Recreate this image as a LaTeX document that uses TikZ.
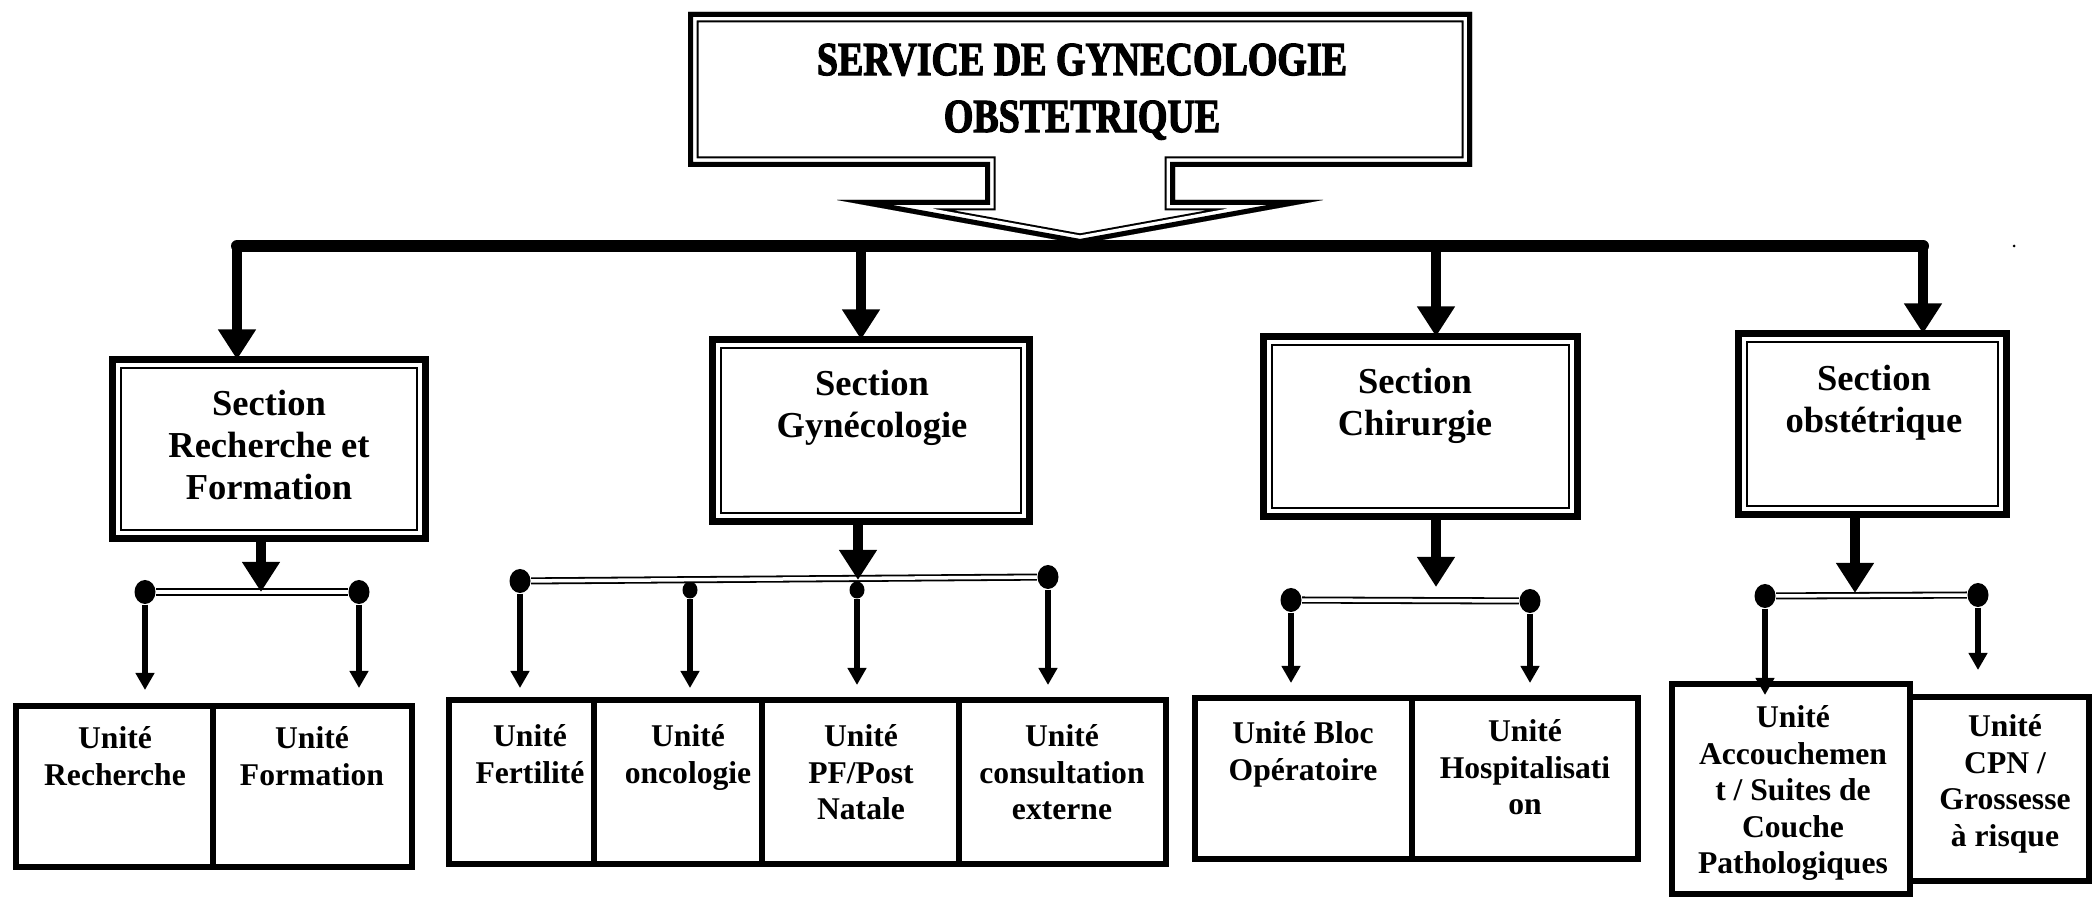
\documentclass[tikz,border=0pt]{standalone}
\usepackage{fontspec}
\setmainfont{Liberation Serif}
\newfontfamily\titlefont[FakeStretch=0.8,FakeBold=2.5]{Liberation Serif}
\usetikzlibrary{arrows.meta,shapes.geometric}
\begin{document}
\begin{tikzpicture}[x=0.1mm,y=-0.1mm,
  bigline/.style={line width=1.2mm, line cap=round, line join=round},
  bigarrow/.style={line width=1.0mm, -{Triangle[length=3.0mm,width=3.6mm]}},
  smallarrow/.style={line width=0.55mm, -{Triangle[length=1.7mm,width=1.8mm]}},
  bar/.style={double, line width=0.18mm, double distance=0.35mm},
  bigdot/.style={ellipse, fill, inner sep=0, minimum width=2.1mm, minimum height=2.4mm},
  smalldot/.style={ellipse, fill, inner sep=0, minimum width=1.5mm, minimum height=1.7mm},
  secbox/.style={draw, line width=0.7mm, inner sep=0, outer sep=0},
  secinner/.style={line width=0.2mm},
  unitbox/.style={draw, line width=0.6mm, inner sep=0, outer sep=0, minimum height=#1},
  sectext/.style={anchor=north, align=center, inner sep=0, font=\fontsize{10.4}{12}\selectfont\bfseries},
  unittext/.style={anchor=north, align=center, inner sep=0, font=\fontsize{9}{10.4}\selectfont\bfseries},
  titletext/.style={anchor=north, align=center, inner sep=0, font=\titlefont\fontsize{13.5}{16.2}\selectfont\bfseries}
]
\useasboundingbox (0,0) rectangle (2096,898);

% ---- title arrow-callout ----
\begin{scope}
\clip (688,12) -- (1472,12) -- (1472,167) -- (1175,167) -- (1175,200) -- (1323,200) -- (1080,244) -- (837,200) -- (985,200) -- (985,167) -- (688,167) -- cycle;
\foreach \w/\c in {2.1mm/black,1.7mm/white,1.0mm/black}
  \draw[line width=\w, draw=\c, miter limit=25] (688,12) -- (1472,12) -- (1472,167) -- (1175,167) -- (1175,200) -- (1323,200) -- (1080,244) -- (837,200) -- (985,200) -- (985,167) -- (688,167) -- cycle;
\end{scope}
\node[titletext] (title) at (1082,43) {SERVICE DE GYNECOLOGIE\\OBSTETRIQUE};

% ---- main horizontal line ----
\coordinate (h1) at (237,246);
\coordinate (h2) at (861,246);
\coordinate (h3) at (1436,246);
\coordinate (h4) at (1923,246);
\draw[bigline] (h1) -- (h4);
\fill (2014,246) circle (1.5);

% ---- sections ----
\node[secbox, minimum width=31.3mm, minimum height=17.9mm] (s1) at (269,449) {};
\node[secbox, minimum width=31.7mm, minimum height=18.2mm] (s2) at (871,430.5) {};
\node[secbox, minimum width=31.4mm, minimum height=18.0mm] (s3) at (1420.5,426.5) {};
\node[secbox, minimum width=26.8mm, minimum height=18.1mm] (s4) at (1872.5,424) {};
\foreach \s in {s1,s2,s3,s4}
  \draw[secinner] ([shift={(0.85mm,-0.85mm)}]\s.north west) rectangle ([shift={(-0.85mm,0.85mm)}]\s.south east);
\node[sectext] (s1t) at (269,389) {Section\\Recherche et\\Formation};
\node[sectext] (s2t) at (872,369) {Section\\Gynécologie};
\node[sectext] (s3t) at (1415,367) {Section\\Chirurgie};
\node[sectext] (s4t) at (1874,364) {Section\\obstétrique};

\draw[bigarrow] (h1) -- (h1 |- s1.north);
\draw[bigarrow] (h2) -- (h2 |- s2.north);
\draw[bigarrow] (h3) -- (h3 |- s3.north);
\draw[bigarrow] (h4) -- (h4 |- s4.north);

% ---- section -> bars ----
\coordinate (a1) at (261,592);
\coordinate (a2) at (858,580);
\coordinate (a3) at (1436,587);
\coordinate (a4) at (1855,593);

% dots
\node[bigdot] (g1a) at (145,592) {};
\node[bigdot] (g1b) at (359,592) {};
\node[bigdot] (g2a) at (520,581) {};
\node[smalldot] (g2b) at (690,590) {};
\node[smalldot] (g2c) at (857,590) {};
\node[bigdot] (g2d) at (1048,577) {};
\node[bigdot] (g3a) at (1291,600) {};
\node[bigdot] (g3b) at (1530,601) {};
\node[bigdot] (g4a) at (1765,596) {};
\node[bigdot] (g4b) at (1978,595) {};

\draw[bar] (g1a) -- (g1b);
\draw[bar] (g2a) -- (g2d);
\draw[bar] (g3a) -- (g3b);
\draw[bar] (g4a) -- (g4b);

\draw[bigarrow] (a1 |- s1.south) -- (a1);
\draw[bigarrow] (a2 |- s2.south) -- (a2);
\draw[bigarrow] (a3 |- s3.south) -- (a3);
\draw[bigarrow] (a4 |- s4.south) -- (a4);

% ---- units ----
\node[unitbox=16.1mm, minimum width=19.7mm] (u1) at (114.5,786.5) {};
\node[unitbox=16.1mm, minimum width=19.9mm] (u2) at (312.5,786.5) {};
\node[unitbox=16.4mm, minimum width=14.5mm] (u3) at (521.5,782) {};
\node[unitbox=16.4mm, minimum width=16.8mm] (u4) at (678,782) {};
\node[unitbox=16.4mm, minimum width=19.7mm] (u5) at (860.5,782) {};
\node[unitbox=16.4mm, minimum width=20.7mm] (u6) at (1062.5,782) {};
\node[unitbox=16.1mm, minimum width=21.7mm] (u7) at (1303.5,778.5) {};
\node[unitbox=16.1mm, minimum width=22.6mm] (u8) at (1525,778.5) {};
\node[unitbox=21.0mm, minimum width=23.8mm] (u9) at (1791,789) {};
\node[unitbox=18.4mm, minimum width=17.9mm] (u10) at (1999.5,789) {};

\node[unittext] (t1) at (115,726) {Unité\\Recherche};
\node[unittext] (t2) at (312,726) {Unité\\Formation};
\node[unittext] (t3) at (530,724) {Unité\\Fertilité};
\node[unittext] (t4) at (688,724) {Unité\\oncologie};
\node[unittext] (t5) at (861,724) {Unité\\PF/Post\\Natale};
\node[unittext] (t6) at (1062,724) {Unité\\consultation\\externe};
\node[unittext] (t7) at (1303,721) {Unité Bloc\\Opératoire};
\node[unittext] (t8) at (1525,719) {Unité\\Hospitalisati\\on};
\node[unittext] (t9) at (1793,705) {Unité\\Accouchemen\\t / Suites de\\Couche\\Pathologiques};
\node[unittext] (t10) at (2005,714) {Unité\\CPN /\\Grossesse\\à risque};

% ---- bars -> units ----
\draw[smallarrow, shorten >=1.6mm] (g1a) -- (g1a |- u1.north);
\draw[smallarrow, shorten >=1.8mm] (g1b) -- (g1b |- u2.north);
\draw[smallarrow, shorten >=1.2mm] (g2a) -- (g2a |- u3.north);
\draw[smallarrow, shorten >=1.2mm] (g2b) -- (g2b |- u4.north);
\draw[smallarrow, shorten >=1.5mm] (g2c) -- (g2c |- u5.north);
\draw[smallarrow, shorten >=1.5mm] (g2d) -- (g2d |- u6.north);
\draw[smallarrow, shorten >=1.5mm] (g3a) -- (g3a |- u7.north);
\draw[smallarrow, shorten >=1.5mm] (g3b) -- (g3b |- u8.north);
\draw[smallarrow, shorten >=-1.1mm] (g4a) -- (g4a |- u9.north);
\draw[smallarrow, shorten >=2.7mm] (g4b) -- (g4b |- u10.north);
\end{tikzpicture}
\end{document}
